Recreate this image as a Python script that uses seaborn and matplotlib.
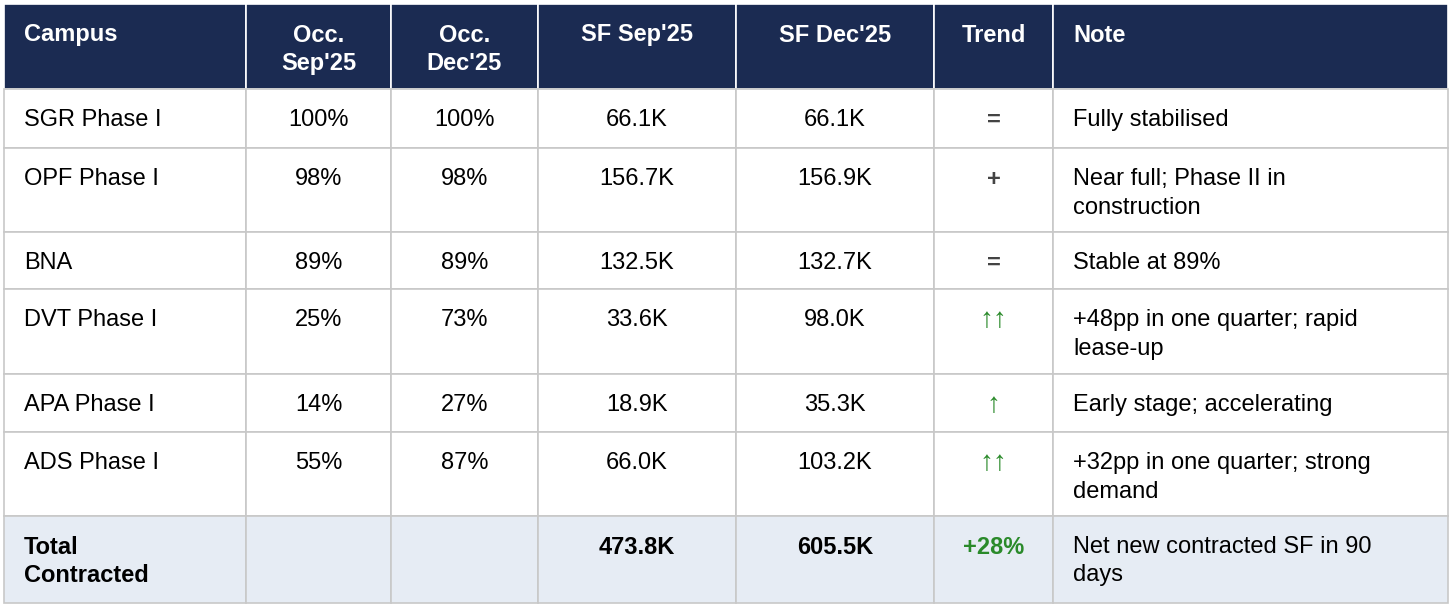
import matplotlib
matplotlib.use("Agg")
import matplotlib.pyplot as plt
import seaborn as sns
from matplotlib.patches import Rectangle

sns.set_theme(style="white")
plt.rcParams['font.family'] = ['Liberation Sans', 'DejaVu Sans']

headers = ["Campus", "Occ.\nSep'25", "Occ.\nDec'25", "SF Sep'25", "SF Dec'25", "Trend", "Note"]
campuses = ["SGR Phase I", "OPF Phase I", "BNA", "DVT Phase I", "APA Phase I", "ADS Phase I"]
occ_sep = ["100%", "98%", "89%", "25%", "14%", "55%"]
occ_dec = ["100%", "98%", "89%", "73%", "27%", "87%"]
sf_sep = ["66.1K", "156.7K", "132.5K", "33.6K", "18.9K", "66.0K"]
sf_dec = ["66.1K", "156.9K", "132.7K", "98.0K", "35.3K", "103.2K"]
trend = ["=", "+", "=", "\u2191\u2191", "\u2191", "\u2191\u2191"]
notes = ["Fully stabilised", "Near full; Phase II in\nconstruction", "Stable at 89%",
         "+48pp in one quarter; rapid\nlease-up", "Early stage; accelerating",
         "+32pp in one quarter; strong\ndemand"]
total = ["Total\nContracted", "", "", "473.8K", "605.5K", "+28%", "Net new contracted SF in 90\ndays"]

col_x = [4, 246, 391, 538, 736, 934, 1053, 1448]
row_y = [4, 89, 148, 232, 289, 374, 432, 516, 603]
navy = "#1b2b52"
green = "#2a8a2a"
grid = "#c8c8c8"

fig = plt.figure(figsize=(14.56, 6.08), dpi=100)
ax = fig.add_axes([0, 0, 1, 1])
ax.set_xlim(0, 1456)
ax.set_ylim(608, 0)
ax.axis("off")

rows = [headers] + [list(r) for r in zip(campuses, occ_sep, occ_dec, sf_sep, sf_dec, trend, notes)] + [total]
fs = 17
last = len(rows) - 1
for r, cells in enumerate(rows):
    top, bot = row_y[r], row_y[r + 1]
    face = navy if r == 0 else ("#e6ecf4" if r == last else "white")
    for c, txt in enumerate(cells):
        left, right = col_x[c], col_x[c + 1]
        ax.add_patch(Rectangle((left, top), right - left, bot - top, facecolor=face,
                               edgecolor="white" if r == 0 else grid, lw=1.2))
        if not txt:
            continue
        color = "white" if r == 0 else "black"
        weight = "bold" if r == 0 or (r == last and c != 6) else "normal"
        size = fs
        if c == 5 and r > 0:
            if txt in ("=", "+"):
                color, weight = "#444444", "bold"
            else:
                color = green
                if r != last:
                    size = fs + 3
        left_align = c in (0, 6)
        x = left + 20 if left_align else (left + right) / 2
        for i, line in enumerate(txt.split("\n")):
            ax.text(x, top + 31 + 28.5 * i, line, ha="left" if left_align else "center",
                    va="center", fontsize=size, color=color, fontweight=weight)

fig.savefig("out.png", dpi=100, facecolor="white")
